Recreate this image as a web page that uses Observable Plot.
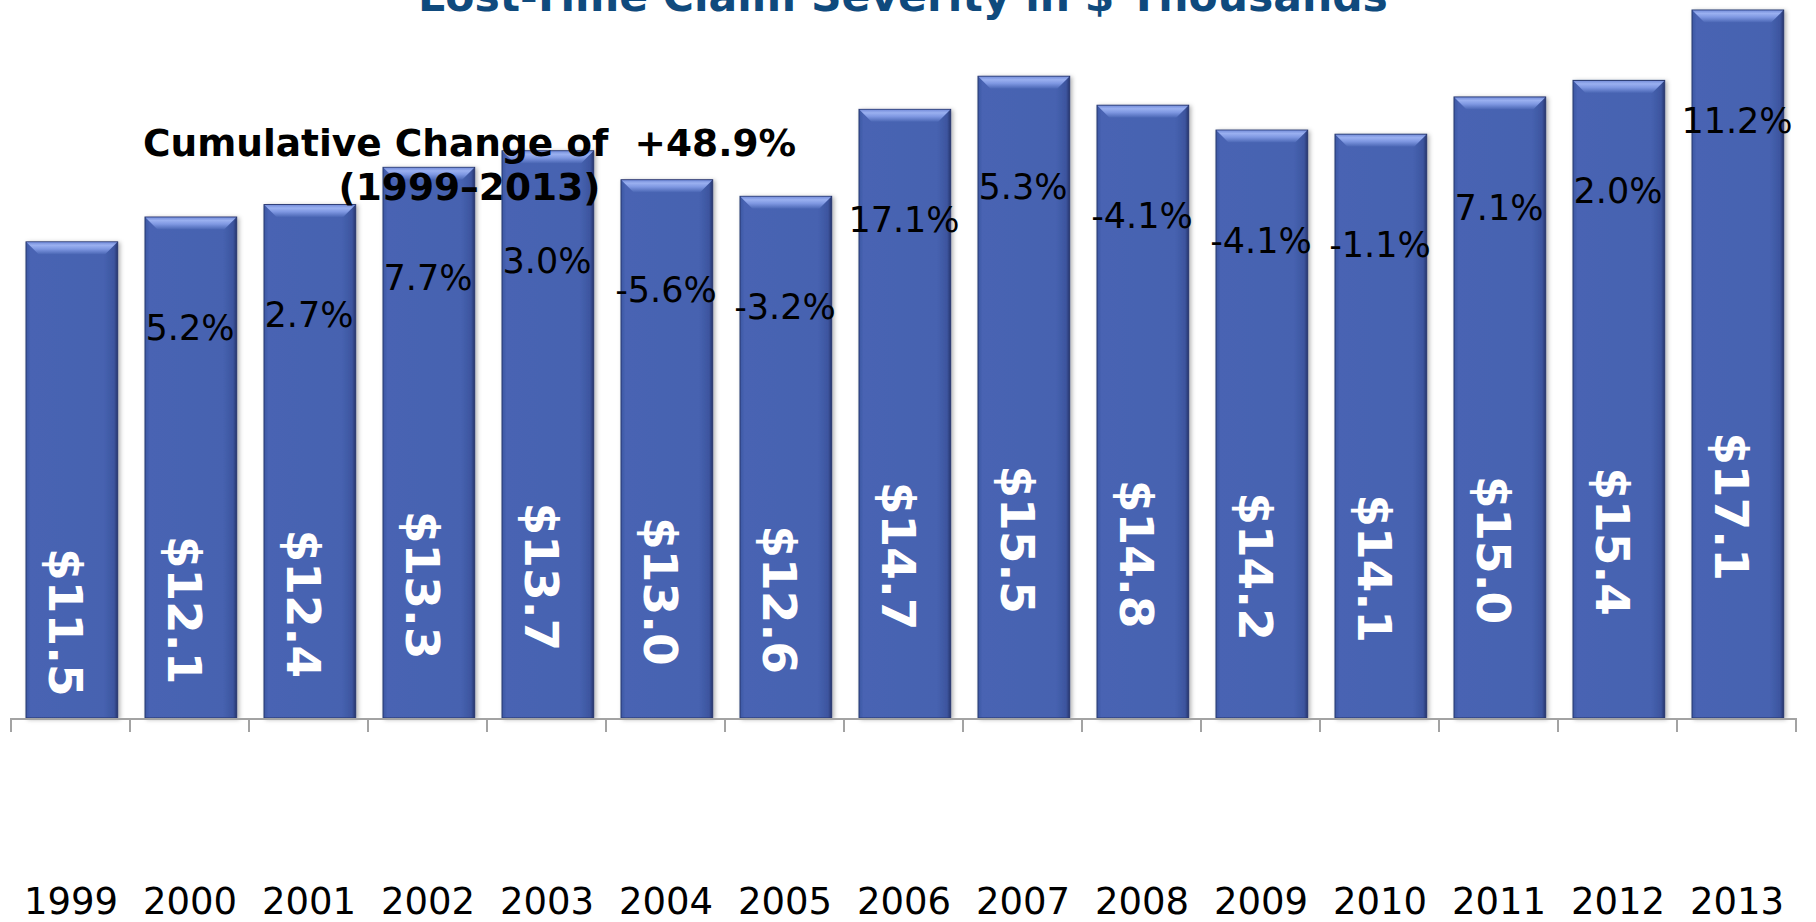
<!DOCTYPE html>
<html><head><meta charset="utf-8">
<script src="https://cdn.jsdelivr.net/npm/d3@7"></script>
<script src="https://cdn.jsdelivr.net/npm/@observablehq/plot@0.6"></script>
<style>
html,body{margin:0;padding:0;background:#fff;overflow:hidden;}
#wrap{position:relative;width:1816px;height:922px;}
#title{position:absolute;left:0;width:1806px;top:-24px;text-align:center;font-weight:bold;font-size:42.5px;font-family:"DejaVu Sans",Verdana,sans-serif;color:#0f4a7d;line-height:42.5px;white-space:nowrap;}
</style></head><body>
<div id="wrap"><div id="chart"></div><div id="title">Lost-Time Claim Severity in $ Thousands</div></div>
<script>
const years = ["1999","2000","2001","2002","2003","2004","2005","2006","2007","2008","2009","2010","2011","2012","2013"];
const severity = [11.5, 12.1, 12.4, 13.3, 13.7, 13.0, 12.6, 14.7, 15.5, 14.8, 14.2, 14.1, 15.0, 15.4, 17.1];
const pctChange = [null, 5.2, 2.7, 7.7, 3.0, -5.6, -3.2, 17.1, 5.3, -4.1, -4.1, -1.1, 7.1, 2.0, 11.2];
const cumulativeLabel = "Cumulative Change of\u00a0\u00a0+48.9%\n(1999\u20132013)";

const data = years.map((year, i) => ({year, value: severity[i], pct: pctChange[i]}));
const INSET_L = 15, INSET_R = 12.3, BEVEL = 12;

function defs() {
  const d = d3.create("svg:defs");
  const g = d.append("linearGradient").attr("id", "barGrad").attr("x1", 0).attr("x2", 1).attr("y1", 0).attr("y2", 0);
  [["0%", "#3d56a3"], ["5%", "#4864b3"], ["85%", "#4662b0"], ["96%", "#3d559f"], ["100%", "#26366f"]]
    .forEach(([o, c]) => g.append("stop").attr("offset", o).attr("stop-color", c));
  const b = d.append("linearGradient").attr("id", "bevelGrad").attr("x1", 0).attr("x2", 0).attr("y1", 0).attr("y2", 1);
  [["0%", "#7890dc"], ["25%", "#9ab0f0"], ["55%", "#7f98e2"], ["100%", "#4a66b4"]]
    .forEach(([o, c]) => b.append("stop").attr("offset", o).attr("stop-color", c));
  const f = d.append("filter").attr("id", "shadow").attr("x", "-10%").attr("y", "-5%").attr("width", "130%").attr("height", "115%");
  f.append("feDropShadow").attr("dx", 2).attr("dy", 1).attr("stdDeviation", 2).attr("flood-color", "#000").attr("flood-opacity", 0.3);
  return d.node();
}

function bevels(index, scales) {
  const x = scales.x, y = scales.y;
  const step = x(years[1]) - x(years[0]);
  const g = d3.create("svg:g");
  data.forEach(d => {
    const x0 = x(d.year) + INSET_L + 0.5, x1 = x(d.year) + step - INSET_R - 0.5, yt = y(d.value) + 0.5;
    g.append("polygon")
      .attr("points", [[x0, yt], [x1, yt], [x1 - BEVEL, yt + BEVEL], [x0 + BEVEL, yt + BEVEL]].map(p => p.join(",")).join(" "))
      .attr("fill", "url(#bevelGrad)");
  });
  return g.node();
}

function baseAxis(index, scales) {
  const x = scales.x, y = scales.y;
  const edges = years.map(v => x(v));
  const step = edges[1] - edges[0];
  edges.push(edges[edges.length - 1] + step);
  const y0 = y(0);
  const g = d3.create("svg:g").attr("stroke", "#a3a3a3").attr("stroke-width", 2);
  g.append("line").attr("x1", edges[0]).attr("x2", edges[edges.length - 1]).attr("y1", y0 + 1).attr("y2", y0 + 1);
  edges.forEach(e => g.append("line").attr("x1", e).attr("x2", e).attr("y1", y0).attr("y2", y0 + 14));
  return g.node();
}

const plot = Plot.plot({
  width: 1816, height: 922,
  marginLeft: 7, marginRight: 17, marginTop: 10, marginBottom: 204,
  x: {domain: years, padding: 0},
  y: {domain: [0, 17.1], axis: null},
  style: {background: "transparent", color: "black", fontFamily: "DejaVu Sans, Verdana, sans-serif"},
  marks: [
    defs,
    Plot.barY(data, {x: "year", y: "value", fill: "url(#barGrad)", stroke: "#27366f", strokeWidth: 1, insetLeft: INSET_L, insetRight: INSET_R}),
    bevels,
    baseAxis,
    Plot.axisX({tickSize: 0, tickPadding: 169, fontSize: 37, label: null, fontFamily: "DejaVu Sans, Verdana, sans-serif"}),
    Plot.text(data, {x: "year", y: d => d.value / 2, dy: 142, dx: -7, text: d => "$" + d.value.toFixed(1), rotate: 90, fill: "white", fontSize: 47, fontWeight: "bold", fontFamily: "DejaVu Sans, Verdana, sans-serif"}),
    Plot.text(data.filter(d => d.pct != null), {x: "year", y: "value", dy: 111, text: d => d.pct.toFixed(1) + "%", fill: "black", fontSize: 35, fontFamily: "DejaVu Sans, Verdana, sans-serif"}),
    Plot.text([cumulativeLabel], {text: d => d, frameAnchor: "top-left", dx: 462, dy: 115, lineAnchor: "top", textAnchor: "middle", fontSize: 37.5, fontWeight: "bold", lineHeight: 1.16, fill: "black", fontFamily: "DejaVu Sans, Verdana, sans-serif"})
  ]
});
d3.select(plot).selectAll('g[aria-label="bar"]').filter((d, i) => i === 0).attr("filter", "url(#shadow)");
document.getElementById("chart").appendChild(plot);
</script>
</body></html>
